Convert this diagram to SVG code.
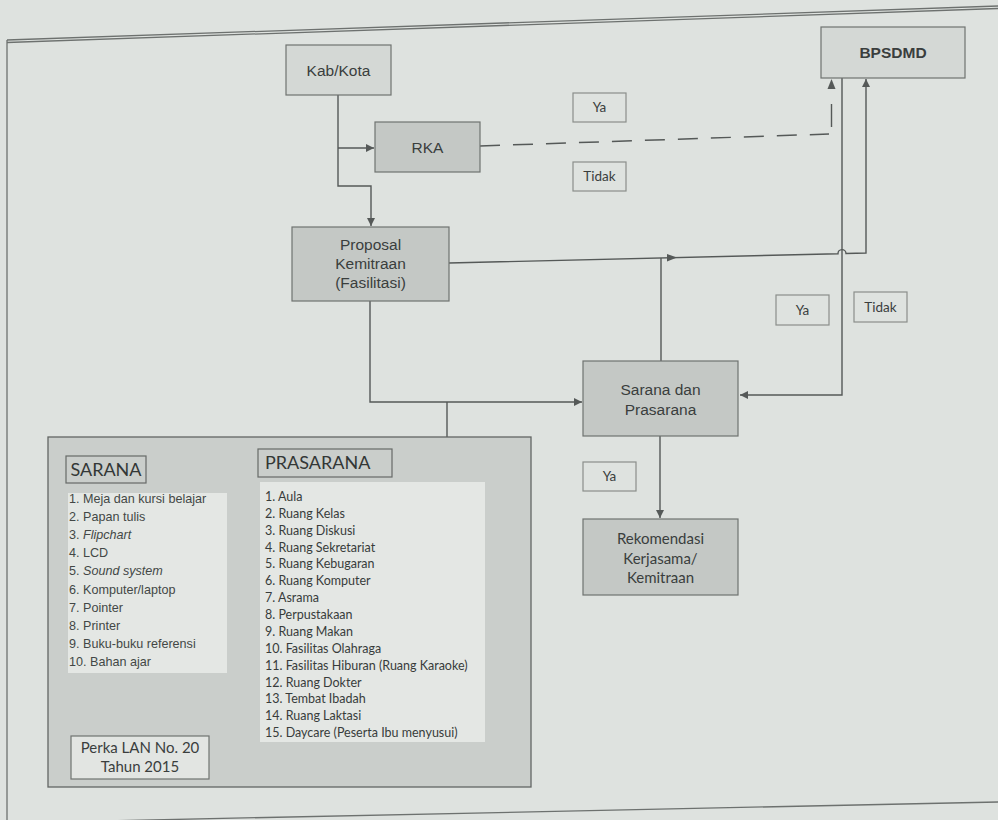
<svg xmlns="http://www.w3.org/2000/svg" width="998" height="820" viewBox="0 0 998 820">
<defs>
<style>
.bg{fill:#dee2df}
.frame{fill:none;stroke:#6d716f;stroke-width:1.3}
.lightbox{fill:#d4d8d5;stroke:#6f7371;stroke-width:1.2}
.darkbox{fill:#c4c8c5;stroke:#6f7371;stroke-width:1.2}
.lbl{fill:none;stroke:#8a8e8b;stroke-width:1.2}
.panel{fill:#cacecb;stroke:#626664;stroke-width:1.3}
.listbg{fill:#e4e7e4;stroke:none}
.hdr{fill:none;stroke:#666a68;stroke-width:1.2}
.t{font-family:"Liberation Sans",Arial,sans-serif;font-size:15.5px;fill:#3a3e3d;text-anchor:middle}
.tb{font-family:"Liberation Sans",Arial,sans-serif;font-size:15.5px;font-weight:bold;fill:#3a3e3d;text-anchor:middle}
.c{font-family:Lato,"Open Sans",sans-serif;fill:#333736}
.cm{font-family:Lato,"Open Sans",sans-serif;fill:#3a3e3d;text-anchor:middle}
.sl{font-family:"Liberation Sans",Arial,sans-serif;font-size:12.6px;fill:#434746}
.pl{font-family:Lato,"Open Sans",sans-serif;font-size:12.5px;fill:#383c3b}
.ln{fill:none;stroke:#555958;stroke-width:1.4}
.dash{fill:none;stroke:#555958;stroke-width:1.5;stroke-dasharray:20 13}
</style>
<marker id="ah" viewBox="0 0 10 10" refX="10" refY="5" markerWidth="9" markerHeight="8" markerUnits="userSpaceOnUse" orient="auto">
<path d="M0,0 L10,5 L0,10 z" fill="#555958"/>
</marker>
</defs>

<rect class="bg" x="0" y="0" width="998" height="820"/>

<g id="frame">
<line class="frame" x1="7" y1="40" x2="998" y2="6"/>
<line class="frame" x1="7" y1="42.5" x2="998" y2="8.5"/>
<line class="frame" x1="7" y1="40" x2="7" y2="820"/>
<line class="frame" x1="7" y1="823" x2="998" y2="802"/>
</g>

<g id="connectors">
<path class="ln" d="M338,95 V186 H371 V226" marker-end="url(#ah)"/>
<path class="ln" d="M338,148 H374" marker-end="url(#ah)"/>
<path class="dash" d="M480,146 L829,134"/>
<path class="ln" d="M831.5,127 V104"/>
<path d="M827.5,89 L831.5,79 L835.5,89 z" fill="#555958"/>
<path class="ln" d="M449,263 L838,253.7 A4,4 0 0 1 846,253.5 L866,253 V79" marker-end="url(#ah)"/>
<path d="M667,254 L677,257.6 L667,261.6 z" fill="#555958"/>
<path class="ln" d="M661,361 V258"/>
<path class="ln" d="M842,78 V395 H740" marker-end="url(#ah)"/>
<path class="ln" d="M370,301 V402 H582" marker-end="url(#ah)"/>
<path class="ln" d="M447,402 V437"/>
<path class="ln" d="M660,436 V518" marker-end="url(#ah)"/>
</g>

<g id="kabkota">
<rect class="lightbox" x="286" y="45" width="105" height="50"/>
<text class="t" x="338.5" y="76">Kab/Kota</text>
</g>

<g id="rka">
<rect class="darkbox" x="375" y="122" width="105" height="50"/>
<text class="t" x="427.5" y="153">RKA</text>
</g>

<g id="bpsdmd">
<rect class="lightbox" x="821" y="27" width="144" height="51"/>
<text class="tb" x="893" y="58">BPSDMD</text>
</g>

<g id="label-ya-1">
<rect class="lbl" x="573" y="93" width="53" height="29"/>
<text class="cm" x="599.5" y="112" font-size="13.5">Ya</text>
</g>
<g id="label-tidak-1">
<rect class="lbl" x="573" y="162" width="53" height="29"/>
<text class="cm" x="599.5" y="181" font-size="13.5">Tidak</text>
</g>

<g id="proposal">
<rect class="darkbox" x="292" y="227" width="157" height="74"/>
<text class="t" x="370.5" y="250">Proposal</text>
<text class="t" x="370.5" y="269">Kemitraan</text>
<text class="t" x="370.5" y="288">(Fasilitasi)</text>
</g>

<g id="label-ya-2">
<rect class="lbl" x="776" y="295" width="53" height="30"/>
<text class="cm" x="802.5" y="314.5" font-size="13.5">Ya</text>
</g>
<g id="label-tidak-2">
<rect class="lbl" x="854" y="292" width="53" height="30"/>
<text class="cm" x="880.5" y="311.5" font-size="13.5">Tidak</text>
</g>

<g id="sarana-prasarana">
<rect class="darkbox" x="583" y="361" width="155" height="75"/>
<text class="t" x="660.5" y="395">Sarana dan</text>
<text class="t" x="660.5" y="415">Prasarana</text>
</g>

<g id="label-ya-3">
<rect class="lbl" x="583" y="462" width="53" height="29"/>
<text class="cm" x="609.5" y="481" font-size="13.5">Ya</text>
</g>

<g id="rekomendasi">
<rect class="darkbox" x="583" y="519" width="155" height="76"/>
<text class="cm" x="660.5" y="544" font-size="15">Rekomendasi</text>
<text class="cm" x="660.5" y="563.5" font-size="15">Kerjasama/</text>
<text class="cm" x="660.5" y="583" font-size="15">Kemitraan</text>
</g>

<g id="panel">
<rect class="panel" x="48" y="437" width="483" height="350"/>
<g id="sarana">
<rect class="hdr" x="66" y="456" width="80" height="27" fill="#cfd3d0"/>
<text class="c" x="106" y="476" font-size="18" text-anchor="middle">SARANA</text>
<rect class="listbg" x="68" y="493" width="159" height="180"/>
<text class="sl" x="69" y="503">1. Meja dan kursi belajar</text>
<text class="sl" x="69" y="521.1">2. Papan tulis</text>
<text class="sl" x="69" y="539.2">3. <tspan font-style="italic">Flipchart</tspan></text>
<text class="sl" x="69" y="557.3">4. LCD</text>
<text class="sl" x="69" y="575.4">5. <tspan font-style="italic">Sound system</tspan></text>
<text class="sl" x="69" y="593.5">6. Komputer/laptop</text>
<text class="sl" x="69" y="611.6">7. Pointer</text>
<text class="sl" x="69" y="629.7">8. Printer</text>
<text class="sl" x="69" y="647.8">9. Buku-buku referensi</text>
<text class="sl" x="69" y="665.9">10.  Bahan ajar</text>
</g>
<g id="prasarana">
<rect class="hdr" x="258" y="449" width="134" height="28" fill="#cfd3d0"/>
<text class="c" x="265" y="469" font-size="18">PRASARANA</text>
<rect class="listbg" x="260" y="482" width="225" height="260"/>
<text class="pl" x="265" y="501">1. Aula</text>
<text class="pl" x="265" y="517.9">2. Ruang Kelas</text>
<text class="pl" x="265" y="534.7">3. Ruang Diskusi</text>
<text class="pl" x="265" y="551.6">4. Ruang Sekretariat</text>
<text class="pl" x="265" y="568.4">5. Ruang Kebugaran</text>
<text class="pl" x="265" y="585.3">6. Ruang Komputer</text>
<text class="pl" x="265" y="602.2">7. Asrama</text>
<text class="pl" x="265" y="619">8. Perpustakaan</text>
<text class="pl" x="265" y="635.9">9. Ruang Makan</text>
<text class="pl" x="265" y="652.7">10. Fasilitas Olahraga</text>
<text class="pl" x="265" y="669.6">11. Fasilitas Hiburan (Ruang Karaoke)</text>
<text class="pl" x="265" y="686.5">12. Ruang Dokter</text>
<text class="pl" x="265" y="703.3">13. Tembat Ibadah</text>
<text class="pl" x="265" y="720.2">14. Ruang Laktasi</text>
<text class="pl" x="265" y="737">15. Daycare (Peserta Ibu menyusui)</text>
</g>
<g id="perka">
<rect x="71" y="736" width="138" height="43" fill="#e2e5e2" stroke="#6f7371" stroke-width="1.2"/>
<text class="cm" x="140" y="753" font-size="15">Perka LAN No. 20</text>
<text class="cm" x="140" y="772" font-size="15">Tahun 2015</text>
</g>
</g>
</svg>
